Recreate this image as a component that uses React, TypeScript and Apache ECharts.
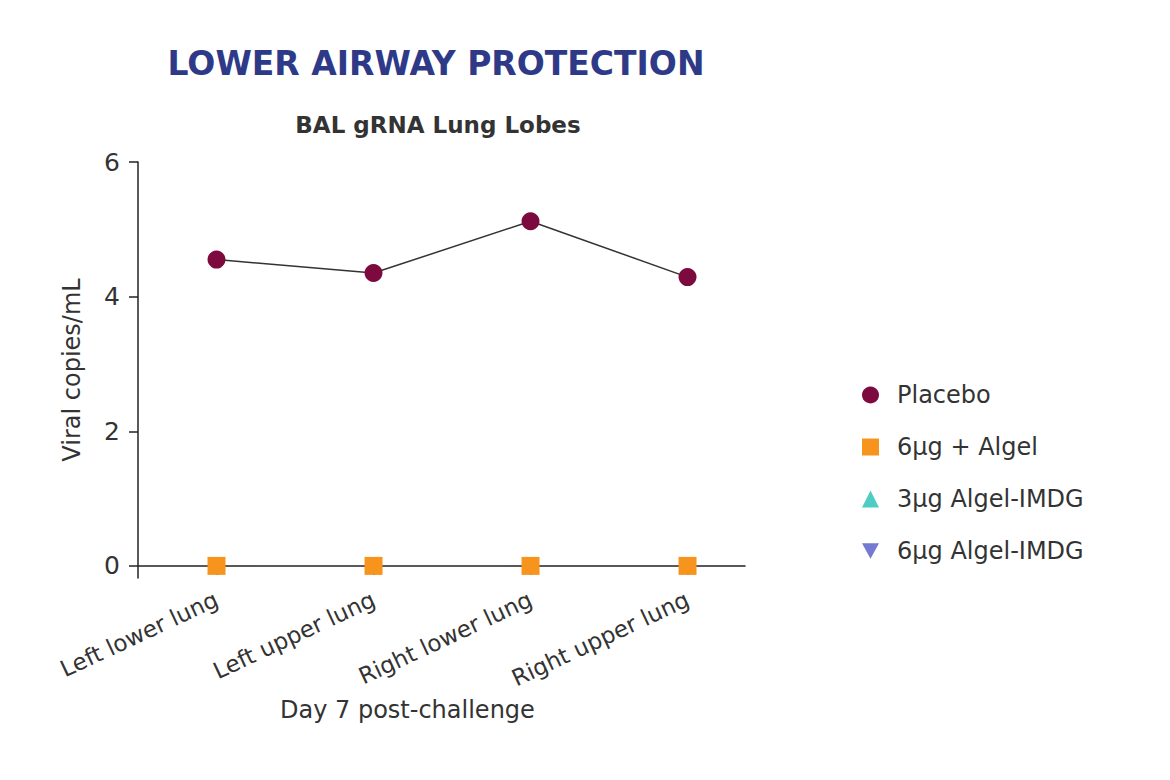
import React, { useEffect, useRef } from "react";
import * as echarts from "echarts";

const categories = ["Left lower lung", "Left upper lung", "Right lower lung", "Right upper lung"];
const placebo = [4.55, 4.35, 5.12, 4.29];
const algel6 = [0, 0, 0, 0];
const imdg3 = [0, 0, 0, 0];
const imdg6 = [0, 0, 0, 0];
const yTicks = [0, 2, 4, 6];
const seriesNames = ["Placebo", "6\u00b5g + Algel", "3\u00b5g Algel-IMDG", "6\u00b5g Algel-IMDG"];
const xTitle = "Day 7 post-challenge";

const FONT = "DejaVu Sans";
const DOWN_TRI = "path://M0,0 L10,0 L5,9 Z";

export default function App() {
  const ref = useRef<HTMLDivElement>(null);
  useEffect(() => {
    if (!ref.current) return;
    const chart = echarts.init(ref.current, null, { renderer: "svg" });
    const toPts = (arr: number[]) => arr.map((v, i) => [i, v]);
    chart.setOption({
      animation: false,
      backgroundColor: "#ffffff",
      textStyle: { fontFamily: FONT },
      title: [
        {
          text: "LOWER AIRWAY PROTECTION",
          left: 423,
          top: 34,
          textAlign: "center",
          textStyle: { fontFamily: FONT, fontWeight: "bold", fontSize: 33, color: "#2e3a87" },
        },
        {
          text: "BAL gRNA Lung Lobes",
          left: 425,
          top: 100,
          textAlign: "center",
          textStyle: { fontFamily: FONT, fontWeight: "bold", fontSize: 23, color: "#333333" },
        },
      ],
      graphic: [
        {
          type: "text",
          left: 272,
          top: 690,
          style: {
            text: xTitle,
            fontFamily: FONT,
            fontSize: 24,
            fill: "#333333",
          },
        },
      ],
      legend: {
        orient: "vertical",
        left: 849,
        top: 370,
        itemGap: 28,
        itemWidth: 17,
        itemHeight: 17,
        textStyle: { fontFamily: FONT, fontSize: 24, color: "#333333", padding: [0, 0, 0, 13] },
        data: [
          { name: seriesNames[0], icon: "circle" },
          { name: seriesNames[1], icon: "rect" },
          { name: seriesNames[2], icon: "triangle" },
          { name: seriesNames[3], icon: DOWN_TRI },
        ],
      },
      grid: { left: 130, right: 433, top: 154, bottom: 210 },
      xAxis: {
        type: "value",
        min: -0.5,
        max: 3.366,
        splitLine: { show: false },
        axisLine: { show: true, onZero: true, lineStyle: { color: "#222222", width: 1.5 } },
        axisTick: { show: true, customValues: [0, 1, 2, 3], length: 9, lineStyle: { color: "#222222", width: 1.5 } },
        axisLabel: {
          customValues: [0, 1, 2, 3],
          formatter: (v: number) => categories[Math.round(v)] ?? "",
          rotate: 25,
          fontFamily: FONT,
          fontSize: 23,
          color: "#333333",
          margin: 20,
        },
      },
      yAxis: {
        type: "value",
        min: -0.18,
        max: 6,
        name: "Viral copies/mL",
        nameLocation: "middle",
        nameGap: 54,
        nameTextStyle: { fontFamily: FONT, fontSize: 24, color: "#333333" },
        splitLine: { show: false },
        axisLine: { show: true, onZero: false, lineStyle: { color: "#222222", width: 1.5 } },
        axisTick: { show: true, customValues: yTicks, length: 9, lineStyle: { color: "#222222", width: 1.5 } },
        axisLabel: { customValues: yTicks, fontFamily: FONT, fontSize: 25, color: "#333333", margin: 18 },
      },
      series: [
        {
          name: seriesNames[2],
          type: "scatter",
          data: toPts(imdg3),
          symbol: "triangle",
          symbolSize: 16,
          itemStyle: { color: "#4ecdc4", opacity: 1 },
          z: 1,
        },
        {
          name: seriesNames[3],
          type: "scatter",
          data: toPts(imdg6),
          symbol: DOWN_TRI,
          symbolSize: 16,
          itemStyle: { color: "#7579d1", opacity: 1 },
          z: 1,
        },
        {
          name: seriesNames[1],
          type: "scatter",
          data: toPts(algel6),
          symbol: "rect",
          symbolSize: 18,
          itemStyle: { color: "#f7941d", opacity: 1 },
          z: 3,
        },
        {
          name: seriesNames[0],
          type: "line",
          data: toPts(placebo),
          symbol: "circle",
          symbolSize: 18,
          showSymbol: true,
          lineStyle: { color: "#333333", width: 1.5 },
          itemStyle: { color: "#7d0a3f", opacity: 1 },
          z: 4,
        },
      ],
    });
    return () => chart.dispose();
  }, []);
  return <div ref={ref} style={{ width: 1170, height: 780 }} />;
}
